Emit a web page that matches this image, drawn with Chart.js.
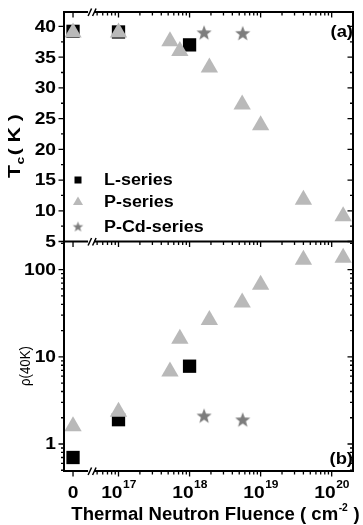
<!DOCTYPE html>
<html>
<head>
<meta charset="utf-8">
<script src="https://cdn.jsdelivr.net/npm/chart.js@4.4.1/dist/chart.umd.min.js"></script>
<style>
  html, body { margin: 0; padding: 0; background: #fff; }
  #wrap { width: 363px; height: 525px; position: relative; }
</style>
</head>
<body>
<div id="wrap"><canvas id="chart"></canvas></div>
<script>
// fluence in cm^-2 (0 is drawn left of the axis break)
const fluenceL = [0, 1e17, 1e18];
const tcL = [39.2, 39.1, 37.0];
const rhoL = [0.70, 1.9, 7.8];

const fluenceP = [0, 1e17, 5.3e17, 7.3e17, 1.9e18, 5.5e18, 1e19, 4e19, 1.45e20];
const tcP = [39.0, 39.0, 37.6, 36.0, 33.3, 27.3, 23.9, 11.8, 9.1];
const rhoP = [1.6, 2.35, 6.8, 16.1, 26.5, 42, 67, 130, 137];

const fluencePCd = [1.6e18, 5.6e18];
const tcPCd = [38.9, 38.8];
const rhoPCd = [2.07, 1.87];

const tcTicks = [5, 10, 15, 20, 25, 30, 35, 40];
const rhoTicks = [1, 10, 100];
const fluenceTickExps = [17, 18, 19, 20];
const zeroLabel = "0";
const seriesNames = ["L-series", "P-series", "P-Cd-series"];

// broken log axis: log10(fluence), with "0" placed at ZERO_X
const ZERO_X = 16.36;
const BREAK_X = 16.6;
const X_MIN = 16.233, X_MAX = 20.30;

const GRAY_TRI = "#b9b9b9";
const GRAY_STAR = "#7d7d7d";
const FONT = '"Liberation Sans", Arial, sans-serif';

function toX(f) {
    return f === 0 ? ZERO_X : Math.log10(f);
}

function points(xs, ys) {
    return xs.map((f, i) => ({ x: toX(f), y: ys[i] }));
}

function makeStar(outer, color) {
    const c = document.createElement("canvas");
    const s = Math.ceil(outer * 2) + 2;
    c.width = s;
    c.height = s;
    const g = c.getContext("2d");
    g.fillStyle = color;
    g.beginPath();
    for (let i = 0; i < 10; i++) {
        const r = i % 2 ? outer * 0.42 : outer;
        const a = -Math.PI / 2 + i * Math.PI / 5;
        g.lineTo(s / 2 + r * Math.cos(a), s / 2 + r * Math.sin(a));
    }
    g.closePath();
    g.fill();
    return c;
}

const starBig = makeStar(8, GRAY_STAR);
const starSmall = makeStar(5.5, GRAY_STAR);

function txt(ctx, s, x, y, size, align, sx, weight) {
    ctx.save();
    ctx.font = (weight || "bold") + " " + size + "px " + FONT;
    ctx.translate(x, y);
    ctx.scale(sx, 1);
    ctx.textAlign = align;
    ctx.fillText(s, 0, 0);
    ctx.restore();
}

function textW(ctx, s, size, sx, weight) {
    ctx.font = (weight || "bold") + " " + size + "px " + FONT;
    return ctx.measureText(s).width * sx;
}

const framePlugin = {
    id: "frame",
    afterDraw(chart) {
        const ctx = chart.ctx;
        const xs = chart.scales.x;
        const yT = chart.scales.yT;
        const yR = chart.scales.yR;
        const L = xs.left, R = xs.right;
        const topY = Math.min(yT.top, yR.top);
        const botY = Math.max(yT.bottom, yR.bottom);
        const midY = (yT.top < yR.top) ? yT.bottom : yR.bottom;
        const px = v => xs.getPixelForValue(v);
        const bx = px(BREAK_X);

        ctx.save();
        ctx.strokeStyle = "#000";
        ctx.fillStyle = "#000";
        ctx.lineCap = "butt";

        // vertical axis lines
        ctx.lineWidth = 2;
        ctx.beginPath();
        ctx.moveTo(L, topY - 1); ctx.lineTo(L, botY + 1);
        ctx.moveTo(R, topY - 1); ctx.lineTo(R, botY + 1);
        ctx.stroke();

        // horizontal lines with break
        [topY, midY, botY].forEach(y => {
            ctx.lineWidth = 2;
            ctx.beginPath();
            ctx.moveTo(L, y); ctx.lineTo(bx - 2, y);
            ctx.moveTo(bx + 4, y); ctx.lineTo(R, y);
            ctx.stroke();
            ctx.lineWidth = 1.5;
            ctx.beginPath();
            ctx.moveTo(bx - 2, y + 4); ctx.lineTo(bx + 1.5, y - 3.5);
            ctx.moveTo(bx + 2.5, y + 4); ctx.lineTo(bx + 6, y - 3.5);
            ctx.stroke();
        });

        // x ticks
        const xMajor = [ZERO_X].concat(fluenceTickExps);
        const xMinor = [];
        for (let e = 16; e <= 20; e++) {
            for (let k = 2; k <= 9; k++) {
                const v = e + Math.log10(k);
                if (v > BREAK_X + 0.05 && v < X_MAX - 0.02) xMinor.push(v);
            }
        }
        ctx.lineWidth = 1.3;
        ctx.beginPath();
        [topY, midY, botY].forEach(y => {
            xMajor.forEach(v => { ctx.moveTo(px(v), y); ctx.lineTo(px(v), y + 5.5); });
            xMinor.forEach(v => { ctx.moveTo(px(v), y); ctx.lineTo(px(v), y + 3.5); });
        });
        ctx.stroke();

        // Tc ticks
        ctx.beginPath();
        for (let v = 5; v <= 42; v += 2.5) {
            const y = yT.getPixelForValue(v);
            const major = tcTicks.includes(v);
            const len = major ? 5.5 : 3;
            ctx.moveTo(L, y); ctx.lineTo(L - len, y);
            ctx.moveTo(R, y); ctx.lineTo(R - len, y);
        }
        // rho ticks
        for (let e = -1; e <= 2; e++) {
            for (let k = 1; k <= 9; k++) {
                const v = k * Math.pow(10, e);
                if (v < yR.min || v > yR.max) continue;
                const y = yR.getPixelForValue(v);
                const len = k === 1 ? 5.5 : 3;
                ctx.moveTo(L, y); ctx.lineTo(L - len, y);
                ctx.moveTo(R, y); ctx.lineTo(R - len, y);
            }
        }
        ctx.stroke();

        // tick labels
        ctx.textBaseline = "middle";
        tcTicks.forEach(v => txt(ctx, String(v), 56, yT.getPixelForValue(v) + 1, 16, "right", 1.2));
        rhoTicks.forEach(v => txt(ctx, String(v), 56, yR.getPixelForValue(v) + 1, 16, "right", 1.2));

        ctx.textBaseline = "alphabetic";
        const labY = botY + 27;
        txt(ctx, zeroLabel, px(ZERO_X), labY, 16, "center", 1.2);
        fluenceTickExps.forEach(e => {
            const wb = textW(ctx, "10", 16, 1.2);
            const ws = textW(ctx, String(e), 10, 1.2);
            const x0 = px(e) - (wb + ws) / 2;
            txt(ctx, "10", x0, labY, 16, "left", 1.2);
            txt(ctx, String(e), x0 + wb + 0.5, labY - 10, 10, "left", 1.2);
        });

        // x title
        const t1 = "Thermal Neutron Fluence ( cm", t2 = "-2", t3 = " )";
        const sxT = 1.03;
        const w1 = textW(ctx, t1, 18, sxT), w2 = textW(ctx, t2, 10, sxT), w3 = textW(ctx, t3, 18, sxT);
        let x0 = 215 - (w1 + w2 + w3) / 2;
        txt(ctx, t1, x0, 520, 18, "left", sxT);
        txt(ctx, t2, x0 + w1 + 0.5, 511, 10, "left", sxT);
        txt(ctx, t3, x0 + w1 + w2 + 1, 520, 18, "left", sxT);

        // y titles
        ctx.save();
        ctx.translate(20, 178);
        ctx.rotate(-Math.PI / 2);
        const sy = 1.25;
        const wT = textW(ctx, "T", 17, sy);
        const wc = textW(ctx, "c", 11, sy);
        txt(ctx, "T", 0, 0, 17, "left", sy);
        txt(ctx, "c", wT + 0.5, 4, 11, "left", sy);
        txt(ctx, "( K )", wT + wc + 2, 0, 17, "left", sy);
        ctx.restore();

        ctx.save();
        ctx.translate(30, 366);
        ctx.rotate(-Math.PI / 2);
        txt(ctx, "\u03c1(40K)", 0, 0, 14, "center", 0.95, "normal");
        ctx.restore();

        // panel tags
        txt(ctx, "(a)", 353, 37, 16, "right", 1.15);
        txt(ctx, "(b)", 353, 464, 16, "right", 1.15);

        // legend
        const ly = [180, 202, 227];
        ctx.fillStyle = "#000";
        ctx.fillRect(78 - 3.5, ly[0] - 3.5, 7, 7);
        ctx.fillStyle = GRAY_TRI;
        ctx.beginPath();
        ctx.moveTo(78, ly[1] - 5.5);
        ctx.lineTo(83, ly[1] + 3);
        ctx.lineTo(73, ly[1] + 3);
        ctx.closePath();
        ctx.fill();
        ctx.drawImage(starSmall, 78 - starSmall.width / 2, ly[2] - starSmall.height / 2);
        ctx.fillStyle = "#000";
        ctx.textBaseline = "middle";
        seriesNames.forEach((n, i) => txt(ctx, n, 104, ly[i] + 1, 16, "left", 1.12));

        ctx.restore();
    }
};

const common = { showLine: false, clip: false, borderWidth: 0 };

new Chart(document.getElementById("chart"), {
    type: "scatter",
    data: {
        datasets: [
            Object.assign({ label: "P-series", data: points(fluenceP, tcP), yAxisID: "yT", order: 1,
                pointStyle: "triangle", pointRadius: 10, backgroundColor: GRAY_TRI }, common),
            Object.assign({ label: "P-Cd-series", data: points(fluencePCd, tcPCd), yAxisID: "yT", order: 2,
                pointStyle: starBig, backgroundColor: GRAY_STAR }, common),
            Object.assign({ label: "L-series", data: points(fluenceL, tcL), yAxisID: "yT", order: 3,
                pointStyle: "rect", pointRadius: 9.4, backgroundColor: "#000" }, common),
            Object.assign({ label: "P-series", data: points(fluenceP, rhoP), yAxisID: "yR", order: 1,
                pointStyle: "triangle", pointRadius: 10, backgroundColor: GRAY_TRI }, common),
            Object.assign({ label: "P-Cd-series", data: points(fluencePCd, rhoPCd), yAxisID: "yR", order: 2,
                pointStyle: starBig, backgroundColor: GRAY_STAR }, common),
            Object.assign({ label: "L-series", data: points(fluenceL, rhoL), yAxisID: "yR", order: 3,
                pointStyle: "rect", pointRadius: 9.4, backgroundColor: "#000" }, common)
        ]
    },
    options: {
        responsive: true,
        maintainAspectRatio: false,
        animation: false,
        layout: { padding: { left: 64, top: 12, right: 2, bottom: 54 } },
        plugins: { legend: { display: false }, tooltip: { enabled: false } },
        scales: {
            x: { type: "linear", min: X_MIN, max: X_MAX, display: false },
            yR: { type: "logarithmic", min: 0.49, max: 210, position: "left", stack: "panels", stackWeight: 1, display: false },
            yT: { type: "linear", min: 5, max: 42.35, position: "left", stack: "panels", stackWeight: 1, display: false }
        }
    },
    plugins: [framePlugin]
});
</script>
</body>
</html>
